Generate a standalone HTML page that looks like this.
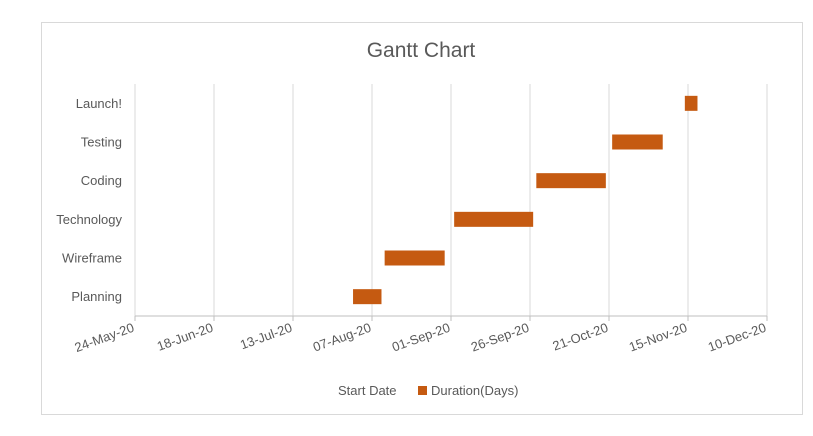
<!DOCTYPE html>
<html><head><meta charset="utf-8"><style>
body{margin:0;background:#fff;font-family:"Liberation Sans",sans-serif}
</style></head><body>
<svg width="813" height="431" xmlns="http://www.w3.org/2000/svg">
<rect x="0" y="0" width="813" height="431" fill="#fff"/>
<rect x="41.5" y="22.5" width="761" height="392" fill="#fff" stroke="#d9d9d9"/>
<text x="421" y="57" text-anchor="middle" font-size="21" fill="#595959">Gantt Chart</text>
<g id="grid"></g><g id="bars"></g><g id="ylabels"></g><g id="xlabels"></g>
<text x="338" y="395" font-size="13" fill="#595959">Start Date</text>
<rect x="418" y="386" width="9" height="9" fill="#c55a11"/>
<text x="431" y="395" font-size="13" fill="#595959">Duration(Days)</text>
</svg>
<script>
const categories=["Planning","Wireframe","Technology","Coding","Testing","Launch!"];
const startDays=[69,79,101,127,151,174];
const durations=[9,19,25,22,16,4];
const tickLabels=["24-May-20","18-Jun-20","13-Jul-20","07-Aug-20","01-Sep-20","26-Sep-20","21-Oct-20","15-Nov-20","10-Dec-20"];
const tickDays=[0,25,50,75,100,125,150,175,200];
const NS="http://www.w3.org/2000/svg";
const x0=135,x1=767,dMax=200,plotTop=84,plotBottom=316;
const xs=d=>x0+(x1-x0)*d/dMax;
const band=(plotBottom-plotTop)/categories.length;
const yc=i=>plotBottom-band*(i+0.5);
function mk(t,a,p){const e=document.createElementNS(NS,t);for(const k in a)e.setAttribute(k,a[k]);p.appendChild(e);return e;}
const g=document.getElementById('grid'),b=document.getElementById('bars'),yl=document.getElementById('ylabels'),xl=document.getElementById('xlabels');
tickDays.forEach((d,i)=>{
 const l=mk('line',{x1:xs(d),x2:xs(d),y1:plotTop,y2:plotBottom,stroke:'#d9d9d9'},g);
 
 
 const tk=mk('line',{x1:xs(d),x2:xs(d),y1:plotBottom,y2:plotBottom+5,stroke:'#bfbfbf'},g);
 
 
 const t=mk('text',{x:xs(d),y:plotBottom+15,'font-size':13,fill:'#595959','text-anchor':'end',transform:`rotate(-20 ${xs(d)} ${plotBottom+15})`},xl);
 t.textContent=tickLabels[i];
 
 
});
const ax=mk('line',{x1:x0,x2:x1,y1:plotBottom,y2:plotBottom,stroke:'#bfbfbf'},g);


categories.forEach((c,i)=>{
 const r=mk('rect',{x:xs(startDays[i]),y:yc(i)-7.5,width:xs(startDays[i]+durations[i])-xs(startDays[i]),height:15,fill:'#c55a11'},b);
 
 
 const t=mk('text',{x:122,y:yc(i)+4.5,'font-size':13,fill:'#595959','text-anchor':'end'},yl);
 t.textContent=c;
 
 
});
</script>
</body></html>
